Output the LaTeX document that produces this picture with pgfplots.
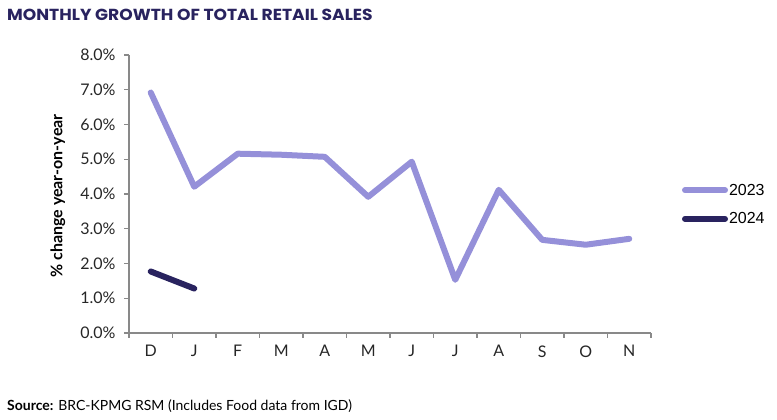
\documentclass[border=0pt]{standalone}
\usepackage{fontspec}
\setmainfont{Lato}
\newfontfamily\titlefont{Poppins}
\newfontfamily\legfont{Liberation Sans}
\usepackage{pgfplots}
\pgfplotsset{compat=1.18}
\definecolor{c23}{HTML}{9590D9}
\definecolor{c24}{HTML}{29235F}
\definecolor{axgray}{HTML}{898989}
\begin{document}
\begin{tikzpicture}[x=1pt,y=1pt]
\useasboundingbox (0,0) rectangle (777,420);
\node[anchor=west, font=\titlefont\bfseries\fontsize{16}{18}\selectfont, text=c24, inner sep=0] at (7,405) {\scalebox{1.07}[1]{MONTHLY GROWTH OF TOTAL RETAIL SALES}};
\node[anchor=west, font=\fontsize{14}{16}\selectfont, inner sep=0] at (7,14) {\textbf{Source:} BRC-KPMG RSM (Includes Food data from IGD)};
\begin{axis}[
  at={(129pt,87pt)}, anchor=south west, scale only axis,
  width=522pt, height=278pt,
  xmin=-0.5, xmax=11.5, ymin=0, ymax=8,
  axis lines*=left,
  axis line style={axgray, line width=1.3pt},
  every axis plot/.append style={line width=6pt, line join=round, line cap=round},
  xtick={0,...,11},
  xticklabels={D,J,F,M,A,M,J,J,A,S,O,N},
  minor xtick={-0.5,0.5,...,11.5},
  ytick={0,1,...,8},
  tick align=outside,
  major x tick style={draw=none},
  minor tick length=5pt,
  major tick length=5pt,
  tick style={axgray, line width=1.3pt},
  /pgf/number format/assume math mode=true,
  yticklabel={\pgfmathprintnumber[fixed,fixed zerofill,precision=1]{\tick}\%},
  ticklabel style={font=\fontsize{16}{18}\selectfont, text=black!85},
  xticklabel style={yshift=-4pt},
  yticklabel style={xshift=-5pt},
  ylabel={\textbf{\% change year-on-year}},
  ylabel style={at={(rel axis cs:0,0.493)}, anchor=center, yshift=71pt, font=\fontsize{16}{18}\selectfont},
  clip=false,
  legend style={at={(1.059,0.462)}, anchor=west, draw=none, fill=none, font=\legfont\fontsize{16}{18}\selectfont, row sep=14pt, inner sep=0pt, nodes={inner sep=1pt}},
  legend cell align=left,
  legend image code/.code={\draw[#1, line width=6pt, line cap=round] (0pt,0pt) -- (40pt,0pt);},
]
\addplot[c23] coordinates {(0,6.92) (1,4.21) (2,5.16) (3,5.13) (4,5.07) (5,3.92) (6,4.93) (7,1.53) (8,4.12) (9,2.68) (10,2.54) (11,2.71)};
\addlegendentry{2023}
\addplot[c24] coordinates {(0,1.77) (1,1.28)};
\addlegendentry{2024}
\end{axis}
\end{tikzpicture}
\end{document}
